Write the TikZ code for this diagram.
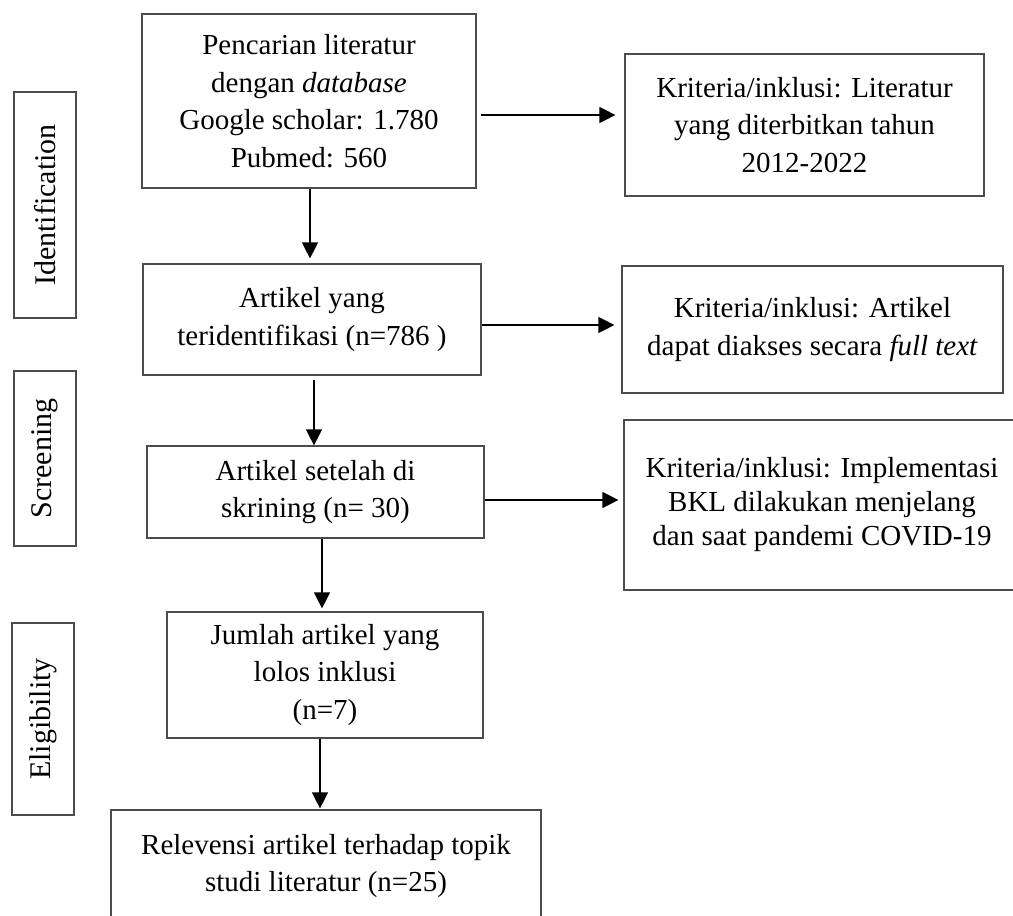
\documentclass[tikz,border=0pt]{standalone}
\usepackage{fontspec}
\setmainfont{Liberation Serif}
\usetikzlibrary{arrows.meta}
\tikzset{
  box/.style={draw=black!70, line width=1.2pt, inner sep=0pt, align=center,
    font=\fontsize{29}{37.5}\selectfont},
  side/.style={draw=black!70, line width=1.2pt, inner sep=0pt,
    font=\fontsize{30}{37}\selectfont},
  arr/.style={draw=black, line width=1.3pt, -{Triangle[length=16pt,width=16pt]}}
}
\begin{document}
\begin{tikzpicture}[x=1pt,y=-1pt]
\useasboundingbox (0,0) rectangle (1013,916);
\clip (0,0) rectangle (1013,916);
% main column
\node[box, minimum width=334pt, minimum height=174pt] (b1) at (309,101)
  {Pencarian literatur\\dengan \textit{database}\\Google scholar: 1.780\\Pubmed: 560};
\node[box, minimum width=338pt, minimum height=111pt] (b2) at (312,319.5)
  {Artikel yang\\teridentifikasi (n=786 )};
\node[box, minimum width=337pt, minimum height=92pt] (b3) at (315.5,492)
  {Artikel setelah di\\skrining (n= 30)};
\node[box, minimum width=316pt, minimum height=126pt] (b4) at (325,675)
  {Jumlah artikel yang\\lolos inklusi\\(n=7)};
\node[box, minimum width=430pt, minimum height=112pt] (b5) at (326,866)
  {Relevensi artikel terhadap topik\\studi literatur (n=25)};
% right column
\node[box, minimum width=359pt, minimum height=142pt] (r1) at (804.5,125)
  {Kriteria/inklusi: Literatur\\yang diterbitkan tahun\\2012-2022};
\node[box, minimum width=381pt, minimum height=127pt] (r2) at (812.5,329.5)
  {Kriteria/inklusi: Artikel\\dapat diakses secara \textit{full text}};
\node[box, minimum width=396pt, minimum height=170pt, font=\fontsize{29}{34}\selectfont] (r3) at (822,505)
  {Kriteria/inklusi: Implementasi\\BKL dilakukan menjelang\\dan saat pandemi COVID-19};
% side labels
\node[side, minimum width=226pt, minimum height=62pt, rotate=90] (s1) at (45,205) {Identification};
\node[side, minimum width=175pt, minimum height=62pt, rotate=90] (s2) at (45,458.5) {Screening};
\node[side, minimum width=192pt, minimum height=62pt, rotate=90] (s3) at (43,719) {Eligibility};
% vertical arrows
\draw[arr, shorten >=5pt] ([xshift=1pt]b1.south) -- ([xshift=1pt]b1.south |- b2.north);
\draw[arr, shorten <=4pt] ([xshift=2pt]b2.south) -- ([xshift=2pt]b2.south |- b3.north);
\draw[arr, shorten >=3pt] ([xshift=6.5pt]b3.south) -- ([xshift=6.5pt]b3.south |- b4.north);
\draw[arr, shorten >=1pt] ([xshift=-5pt]b4.south) -- ([xshift=-5pt]b4.south |- b5.north);
% horizontal arrows
\coordinate (h1) at ([yshift=-14pt]b1.east);
\coordinate (h2) at ([yshift=-5.5pt]b2.east);
\coordinate (h3) at ([yshift=-8pt]b3.east);
\draw[arr, shorten <=4pt, shorten >=9pt] (h1) -- (h1 -| r1.west);
\draw[arr, shorten >=7pt] (h2) -- (h2 -| r2.west);
\draw[arr, shorten >=5pt] (h3) -- (h3 -| r3.west);
\end{tikzpicture}
\end{document}
